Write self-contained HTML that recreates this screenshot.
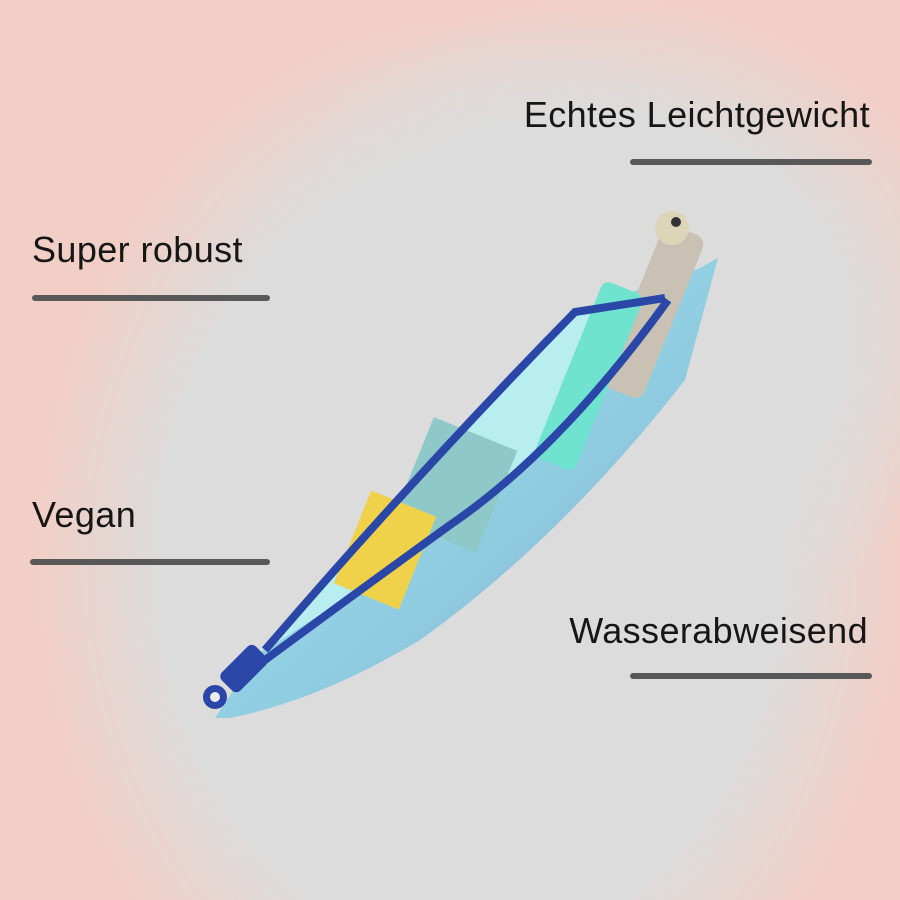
<!DOCTYPE html>
<html><head><meta charset="utf-8"><style>
html,body{margin:0;padding:0}
body{width:900px;height:900px;position:relative;overflow:hidden;
background:
radial-gradient(ellipse 430px 540px at 470px 560px,#dcdcdc 0%,#dcdcdc 72%,rgba(220,220,220,0) 100%),
radial-gradient(ellipse 380px 330px at 600px 330px,#dcdcdc 0%,#dcdcdc 65%,rgba(220,220,220,0) 100%),
#f1cfc6;
font-family:"Liberation Sans",sans-serif;}
.t{position:absolute;font-size:36px;color:#161616;line-height:1;letter-spacing:0.4px}
.l{position:absolute;height:6px;background:#585858;border-radius:3px}
</style></head><body>
<div class="t" style="right:30px;top:97px">Echtes Leichtgewicht</div>
<div class="l" style="left:630px;top:159px;width:242px"></div>
<div class="t" style="left:32px;top:232px">Super robust</div>
<div class="l" style="left:32px;top:295px;width:238px"></div>
<div class="t" style="left:32px;top:497px">Vegan</div>
<div class="l" style="left:30px;top:559px;width:240px"></div>
<div class="t" style="right:32px;top:613px">Wasserabweisend</div>
<div class="l" style="left:630px;top:673px;width:242px"></div>
<svg width="900" height="900" style="position:absolute;left:0;top:0">
<defs><linearGradient id="g" x1="0" y1="0" x2="1" y2="1">
<stop offset="0" stop-color="#a6e4ee"/><stop offset="0.6" stop-color="#8fcbe0"/><stop offset="1" stop-color="#8484c4"/></linearGradient></defs>
<path d="M215,718 L250,665 Q420,470 575,312 L700,268 L718,258 L685,380 Q560,540 420,640 Q320,700 230,718 Z" fill="url(#g)"/>
<path d="M265,650 Q420,470 575,312 L665,298 Q560,450 450,525 Q360,590 265,650 Z" fill="#b8eef0"/>
<rect x="410" y="430" width="90" height="110" fill="#8fc8c8" transform="rotate(22 455 485)"/>
<rect x="350" y="500" width="70" height="100" fill="#f0d24a" transform="rotate(22 385 550)"/>
<rect x="630" y="225" width="44" height="175" rx="10" fill="#c9c2b4" transform="rotate(22 655 315)"/>
<circle cx="672" cy="228" r="17" fill="#ddd5b8"/><circle cx="676" cy="222" r="5" fill="#333"/>
<rect x="565" y="280" width="44" height="190" rx="8" fill="#6fe3cf" transform="rotate(22 585 380)"/>
<path d="M265,650 Q420,470 575,312 L665,298" stroke="#2a47a8" stroke-width="8" fill="none"/>
<path d="M265,660 Q360,590 450,525 Q560,450 668,300" stroke="#2a47a8" stroke-width="8" fill="none"/>
<rect x="230" y="645" width="26" height="48" rx="6" fill="#2a47a8" transform="rotate(45 244 670)"/>
<circle cx="215" cy="697" r="12" fill="#2a47a8"/><circle cx="215" cy="697" r="5" fill="#eee"/>
</svg>
</body></html>
